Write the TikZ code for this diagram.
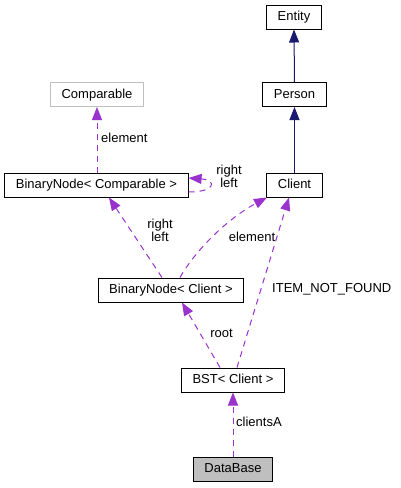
\documentclass[tikz,border=0pt]{standalone}
\usepackage{fontspec}
\setmainfont{Liberation Sans}
\usetikzlibrary{arrows.meta}
\definecolor{navyedge}{HTML}{191970}
\definecolor{purpedge}{HTML}{9A32CD}
\definecolor{greyborder}{HTML}{BFBFBF}
\begin{document}
\begin{tikzpicture}[x=1pt,y=-1pt,
  font=\fontsize{13}{13}\selectfont,
  cls/.style={draw=black,line width=1pt,fill=white,inner xsep=11pt,inner ysep=0pt,minimum height=24pt,text height=9.5pt,text depth=2.5pt},
  inh/.style={draw=navyedge,line width=1pt,-{Triangle[length=13pt,width=10pt,fill=navyedge]}},
  use/.style={draw=purpedge,line width=1pt,dash pattern=on 6pt off 5pt,-{Triangle[length=13pt,width=10pt,fill=purpedge]}},
  lbl/.style={inner sep=0pt,text height=9.5pt,text depth=2.5pt}]
\useasboundingbox (0,0) rectangle (400,488);
\fill[white] (0,0) rectangle (400,488);
% nodes
\node[cls] (entity) at (294,17) {Entity};
\node[cls] (person) at (294.5,94.5) {Person};
\node[cls] (client) at (294.5,185) {Client};
\node[cls,draw=greyborder] (comparable) at (97,94.5) {Comparable};
\node[cls] (bnc) at (96.5,185) {BinaryNode< Comparable >};
\node[cls] (bncl) at (171,290) {BinaryNode< Client >};
\node[cls] (bst) at (233,380) {BST< Client >};
\node[cls,fill=greyborder] (db) at (233,469) {DataBase};
% inheritance
\draw[inh] (person.north) -- (entity.south);
\draw[inh] (client.north) -- (person.south);
% usage
\draw[use] (bnc.north -| comparable.south) -- (comparable.south);
\node[lbl,anchor=west] (l1) at (101,139) {element};
\draw[use] ([yshift=-7pt]bnc.east) .. controls +(28,0) and +(28,2) .. ([yshift=7pt]bnc.east);
\node[lbl,align=center] (l2) at (229,184) {right\\left};
\draw[use] ([xshift=-9pt]bncl.north) -- ([xshift=12.5pt]bnc.south);
\node[lbl,align=center] (l3) at (160,237.5) {right\\left};
\draw[use] ([xshift=9pt]bncl.north) .. controls (198,246) and (232,216) .. ([xshift=-27.5pt]client.south);
\node[lbl] (l4) at (252,238) {element};
\draw[use] ([xshift=-13pt]bst.north) -- ([xshift=11pt]bncl.south);
\node[lbl] (l5) at (221.5,334) {root};
\draw[use] ([xshift=4pt]bst.north) -- ([xshift=-5.5pt]client.south);
\node[lbl,anchor=west] (l6) at (272,289) {ITEM\_NOT\_FOUND};
\draw[use] (db.north) -- (bst.south);
\node[lbl,anchor=west] (l7) at (236,423) {clientsA};
\end{tikzpicture}
\end{document}
